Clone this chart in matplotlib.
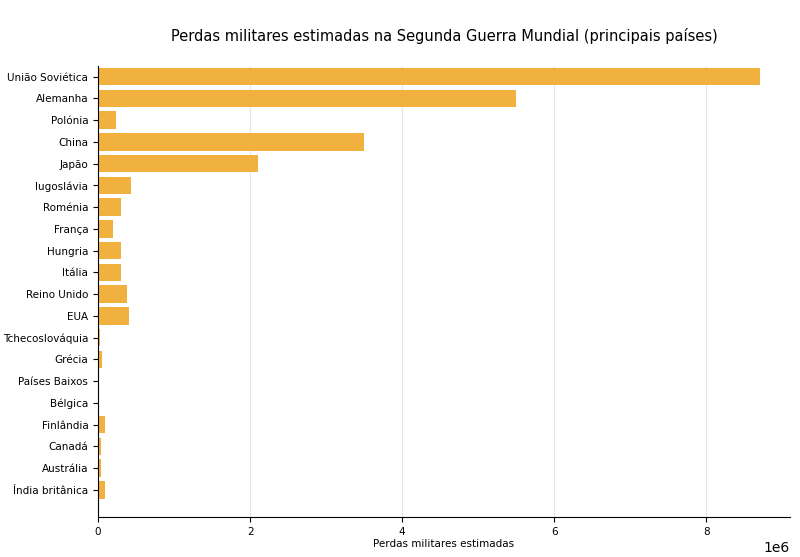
import matplotlib
matplotlib.use("Agg")
import matplotlib.pyplot as plt

countries = ["União Soviética", "Alemanha", "Polónia", "China", "Japão", "Iugoslávia",
             "Roménia", "França", "Hungria", "Itália", "Reino Unido", "EUA",
             "Tchecoslováquia", "Grécia", "Países Baixos", "Bélgica", "Finlândia",
             "Canadá", "Austrália", "Índia britânica"]
losses = [8.7e6, 5.5e6, 0.24e6, 3.5e6, 2.1e6, 0.44e6, 0.3e6, 0.2e6, 0.3e6, 0.3e6,
          0.38e6, 0.41e6, 0.025e6, 0.05e6, 0.017e6, 0.012e6, 0.09e6, 0.045e6, 0.04e6, 0.087e6]

fig = plt.figure(figsize=(8, 5.57), dpi=100)
ax = fig.add_axes([0.1225, 0.072, 0.865, 0.81])
ax.barh(countries, losses, color="#f1b13f", height=0.8, zorder=2)
ax.set_ylim(len(countries) - 1 + 1.24, -0.5)
ax.set_xlim(0, 9.1e6)
ax.grid(axis="x", color="#e6e6e6", zorder=0)
for s in ["top", "right"]:
    ax.spines[s].set_visible(False)
ax.tick_params(labelsize=7.5)
ax.set_xlabel("Perdas militares estimadas", fontsize=7.5, labelpad=2)
ax.set_title("Perdas militares estimadas na Segunda Guerra Mundial (principais países)",
             fontsize=10.5, pad=18)
fig.savefig("out.png")
